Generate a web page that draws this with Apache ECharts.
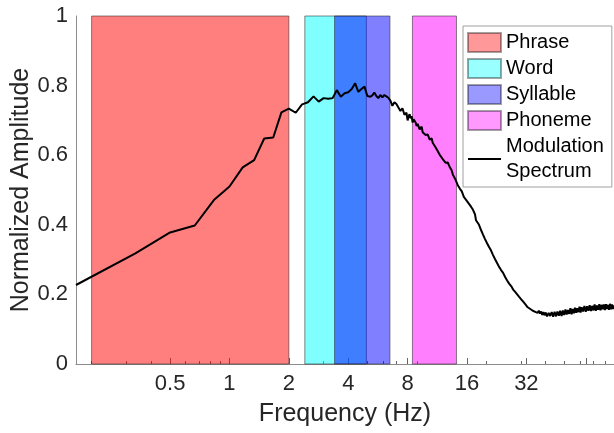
<!DOCTYPE html>
<html><head><meta charset="utf-8">
<script src="https://cdn.jsdelivr.net/npm/echarts@6/dist/echarts.min.js"></script>
<style>html,body{margin:0;padding:0;background:#fff}#c{width:614px;height:433px}</style>
</head><body><div id="c"></div>
<script>
const bandNames = ['Phrase', 'Word', 'Syllable', 'Phoneme'];
const bandStart = [0.2, 2.41, 3.41, 8.46];
const bandEnd = [2, 4.94, 6.51, 14.15];
const bandColors = ['rgba(255,0,0,0.5)', 'rgba(0,255,255,0.5)', 'rgba(0,0,255,0.5)', 'rgba(255,0,255,0.5)'];
const majorTicks = [0.5, 1, 2, 4, 8, 16, 32, 64];
const tickLabels = [0.5, 1, 2, 4, 8, 16, 32];
const minorTicks = [0.2, 0.3, 0.4, 0.6, 0.7, 0.8, 0.9, 3, 5, 6, 7, 9, 20, 30, 40, 50, 60, 70, 80];
const lineName = 'Modulation Spectrum';

const freq = [
  0.1667, 0.3333, 0.5, 0.6667, 0.8333, 1.0, 1.1667, 1.3333, 1.5, 1.6667, 1.8333, 2.0, 2.1667, 2.3333, 2.5, 2.6667, 2.8333, 3.0, 3.1667, 3.3333,
  3.5, 3.6667, 3.8333, 4.0, 4.1667, 4.3333, 4.5, 4.6667, 4.8333, 5.0,
  5.175, 5.298, 5.423, 5.552, 5.682, 5.818, 5.956, 6.097, 6.242, 6.390, 6.542, 6.697, 6.856, 7.019, 7.185, 7.356, 7.531, 7.709, 7.892,
  8.0, 8.094, 8.189, 8.286, 8.383, 8.482, 8.582, 8.682, 8.784, 8.887, 8.992, 9.206, 9.424, 9.535, 9.647, 9.876, 10.11, 10.35, 10.60, 10.72,
  10.85, 11.10, 11.36, 11.64, 11.91, 12.05, 12.19, 12.48, 12.78, 13.08, 13.39, 13.55, 13.71, 14.04, 14.37, 14.71, 15.06, 15.42, 15.78,
  16.0, 16.38, 16.77, 17.16, 17.57, 17.77, 17.98, 18.41, 18.85, 19.29, 19.75, 20.22, 20.70, 21.19, 21.69, 22.21, 22.73, 23.27, 23.82,
  24.39, 24.97, 25.56, 26.17, 26.79, 27.42, 28.08, 28.74, 29.42, 30.12, 30.84, 31.57,
  32.0, 32.5, 33.0, 33.5, 34.0, 34.5, 35.0, 35.5, 36.0, 36.5, 37.0, 37.5, 38.0, 38.5, 39.0, 39.5, 40.0,
  40.75, 41.5, 42.25, 43.0, 43.75, 44.5, 45.25, 46.0, 46.75, 47.5, 48.25, 49.0, 49.75, 50.5, 51.25, 52.0, 52.75,
  53.5, 54.25, 55.0, 55.75, 56.5, 57.25, 58.0, 58.75, 59.5, 60.25,
  61, 62, 63, 64, 65, 66, 67, 68, 69, 70, 71, 72, 73, 74, 75, 76, 77, 78, 79, 80, 81, 82, 83, 84, 85, 86, 87, 88, 89
];
const amp = [
  0.227, 0.318, 0.378, 0.398, 0.471, 0.510, 0.565, 0.586, 0.648, 0.651, 0.723, 0.734, 0.722, 0.746, 0.752, 0.769, 0.754, 0.764, 0.762, 0.764,
  0.787, 0.768, 0.778, 0.781, 0.790, 0.807, 0.782, 0.790, 0.797, 0.770,
  0.768, 0.772, 0.780, 0.770, 0.764, 0.773, 0.766, 0.773, 0.769, 0.765, 0.757, 0.742, 0.752, 0.747, 0.737, 0.727, 0.735, 0.716, 0.722,
  0.700, 0.712, 0.718, 0.706, 0.712, 0.694, 0.703, 0.698, 0.694, 0.684, 0.690, 0.674, 0.682, 0.666, 0.670, 0.658, 0.660, 0.645, 0.648, 0.636,
  0.638, 0.622, 0.618, 0.601, 0.604, 0.589, 0.590, 0.578, 0.579, 0.566, 0.556, 0.545, 0.543, 0.528, 0.514, 0.504, 0.496, 0.480, 0.485,
  0.468, 0.460, 0.452, 0.443, 0.430, 0.413, 0.412, 0.400, 0.385, 0.372, 0.359, 0.347, 0.336, 0.326, 0.313, 0.301, 0.290, 0.279, 0.270,
  0.262, 0.250, 0.240, 0.231, 0.224, 0.214, 0.207, 0.200, 0.193, 0.186, 0.179, 0.172,
  0.168, 0.163, 0.166, 0.158, 0.160, 0.153, 0.158, 0.150, 0.155, 0.147, 0.153, 0.145, 0.151, 0.141, 0.149, 0.140, 0.148,
  0.137, 0.147, 0.138, 0.149, 0.136, 0.150, 0.137, 0.151, 0.139, 0.153, 0.138, 0.154, 0.141, 0.157, 0.142, 0.155, 0.144,
  0.160, 0.143, 0.158, 0.146, 0.162, 0.147, 0.160, 0.149, 0.165, 0.148,
  0.163, 0.151, 0.167, 0.150, 0.166, 0.153, 0.169, 0.152, 0.167, 0.154, 0.171, 0.153, 0.168, 0.156, 0.172, 0.154, 0.170, 0.157, 0.171, 0.155,
  0.172, 0.158, 0.170, 0.156, 0.173, 0.157, 0.171, 0.158, 0.169
];

const FONT = '"Liberation Sans", Arial, Helvetica, sans-serif';
const chart = echarts.init(document.getElementById('c'), null, { renderer: 'canvas' });

const bandSeries = bandNames.map((name, i) => ({
  type: 'scatter',
  name: name,
  data: [],
  itemStyle: { color: bandColors[i], borderColor: 'rgba(0,0,0,0.45)', borderWidth: 1 },
  markArea: {
    silent: true,
    itemStyle: { color: bandColors[i], borderColor: 'rgba(40,40,40,0.55)', borderWidth: 1 },
    label: { show: false },
    data: [[{ xAxis: bandStart[i] }, { xAxis: bandEnd[i] }]]
  },
  z: 2
}));

const option = {
  animation: false,
  textStyle: { fontFamily: FONT },
  grid: { left: 76, right: 0, top: 16, bottom: 69, containLabel: false, outerBoundsMode: 'none' },
  xAxis: [
    {
      type: 'log', logBase: 2, min: 1 / 6, max: 89,
      axisLine: { show: true, lineStyle: { color: '#8c8c8c', width: 1 } },
      axisTick: { show: true, inside: true, length: 6, customValues: majorTicks, lineStyle: { color: '#666' } },
      axisLabel: { customValues: tickLabels, fontSize: 22, color: '#262626', margin: 9, fontFamily: FONT,
        formatter: v => String(+(+v).toPrecision(6)) },
      splitLine: { show: false },
      name: 'Frequency (Hz)', nameLocation: 'middle', nameGap: 38, nameMoveOverlap: false,
      nameTextStyle: { fontSize: 25, color: '#262626', fontFamily: FONT }
    },
    {
      type: 'log', logBase: 2, min: 1 / 6, max: 89, position: 'bottom', gridIndex: 0,
      axisLine: { show: false },
      axisTick: { show: true, inside: true, length: 3, customValues: minorTicks, lineStyle: { color: '#666' } },
      axisLabel: { show: false },
      splitLine: { show: false }
    }
  ],
  yAxis: {
    type: 'value', min: 0, max: 1, interval: 0.2,
    axisLine: { show: true, lineStyle: { color: '#8c8c8c', width: 1 } },
    axisTick: { show: false },
    splitLine: { show: false },
    axisLabel: { fontSize: 22, color: '#262626', margin: 8, fontFamily: FONT },
    name: 'Normalized Amplitude', nameLocation: 'middle', nameGap: 42, nameMoveOverlap: false,
    nameTextStyle: { fontSize: 25, color: '#262626', fontFamily: FONT }
  },
  legend: {
    orient: 'vertical', left: 463, top: 26,
    padding: [4, 8, 3, 4], itemGap: 1, itemWidth: 33, itemHeight: 19,
    backgroundColor: '#fff', borderColor: '#a0a0a0', borderWidth: 1, borderRadius: 0,
    selectedMode: false,
    textStyle: { fontSize: 20, color: '#000', lineHeight: 25, fontFamily: FONT },
    data: bandNames.map(n => ({ name: n, icon: 'rect' })).concat([
      { name: lineName, itemStyle: { opacity: 0 } }
    ]),
    formatter: n => (n === lineName ? 'Modulation\nSpectrum' : n)
  },
  series: bandSeries.concat([{
    type: 'line',
    name: lineName,
    data: freq.map((f, i) => [f, amp[i]]),
    showSymbol: false,
    symbol: 'none',
    lineStyle: { color: '#000', width: 2 },
    itemStyle: { color: '#000' },
    z: 5
  }])
};
chart.setOption(option);
</script>
</body></html>
